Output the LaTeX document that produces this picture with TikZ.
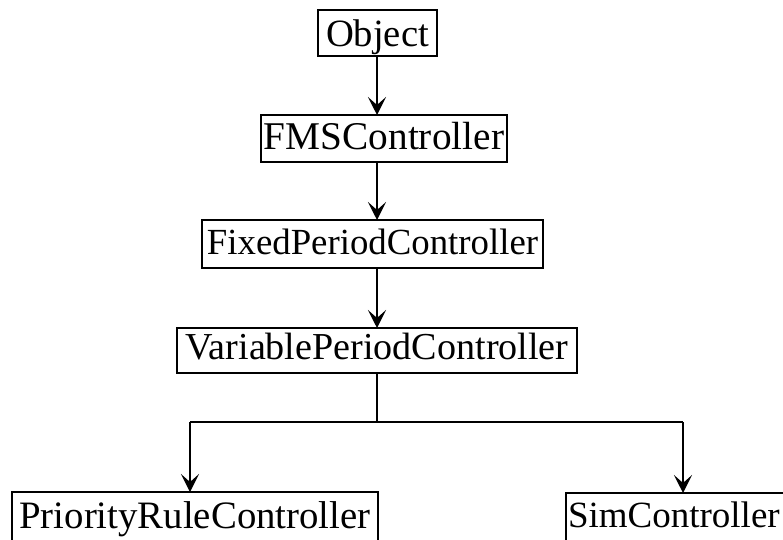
\documentclass[tikz,border=0pt]{standalone}
\usepackage{fontspec}
\setmainfont{Liberation Serif}
\usetikzlibrary{arrows.meta}
\begin{document}
\begin{tikzpicture}[x=1pt,y=-1pt,
  cls/.style={draw=black, line width=1.4pt, inner sep=0pt, outer sep=0pt, text=black},
  fs/.style={font=\fontsize{#1}{#1}\selectfont},
  bl/.style={text height=19pt+#1, text depth=19pt-#1},
  conn/.style={draw=black, line width=1.6pt},
  arr/.style={conn, -{Stealth[length=18pt,width=18pt,inset=8pt]}}]
\clip (0,0) rectangle (783,539);
\useasboundingbox (0,0) rectangle (783,539);
\fill[white] (0,0) rectangle (783,539);
\node[cls, fs=38.6, bl=13.5pt, minimum width=119pt, minimum height=46pt] (obj) at (377.5,33) {Object};
\node[cls, fs=39.3, bl=10.5pt, minimum width=246pt, minimum height=47pt] (fms) at (384,138.5) {FMSController};
\node[cls, fs=36.8, bl=10pt, minimum width=341pt, minimum height=48pt] (fixed) at (372.5,244) {FixedPeriodController};
\node[cls, fs=38.1, bl=9pt, minimum width=400pt, minimum height=45pt] (var) at (377,350.5) {VariablePeriodController};
\node[cls, fs=38.8, bl=11pt, minimum width=366pt, minimum height=50pt] (prio) at (195,517) {PriorityRuleController};
\node[cls, fs=37, bl=9pt, minimum width=226pt, minimum height=50pt, anchor=north west, text width=222pt, align=left] (sim) at (566,493) {SimController};
\coordinate (cx) at (377,0);
\coordinate (jn) at (377,422);
\coordinate (jl) at (190,422);
\coordinate (jr) at (683,422);
\draw[arr] (obj.south -| cx) -- (fms.north -| cx);
\draw[arr] (fms.south -| cx) -- (fixed.north -| cx);
\draw[arr] (fixed.south -| cx) -- (var.north -| cx);
\draw[conn] (var.south -| cx) -- (jn);
\draw[conn] (jl) -- (jr);
\draw[arr] (jl) -- (jl |- prio.north);
\draw[arr] (jr) -- (jr |- sim.north);
\end{tikzpicture}
\end{document}
